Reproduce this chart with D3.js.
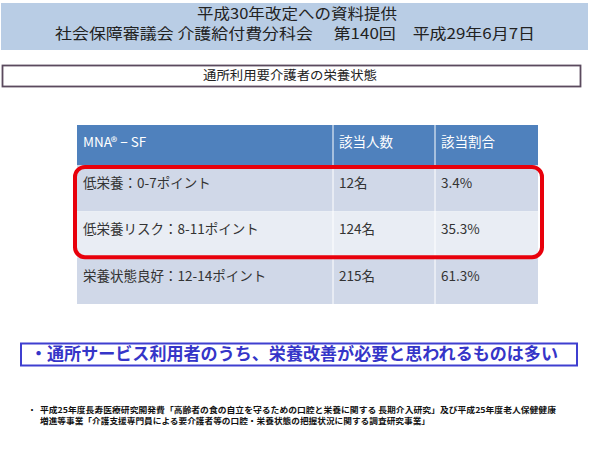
<!DOCTYPE html>
<html><head><meta charset="utf-8">
<script src="https://cdn.jsdelivr.net/npm/d3@7"></script>
<style>body{margin:0;background:#fff}svg{display:block}</style>
</head><body>
<script>
const headerLines = ["平成30年改定への資料提供", "社会保障審議会 介護給付費分科会　 第140回　平成29年6月7日"];
const pageTitle = "通所利用要介護者の栄養状態";
const columns = ["MNA® − SF", "該当人数", "該当割合"];
const categories = ["低栄養：0-7ポイント", "低栄養リスク：8-11ポイント", "栄養状態良好：12-14ポイント"];
const counts = [12, 124, 215];
const shares = [3.4, 35.3, 61.3];
const highlighted = ["低栄養：0-7ポイント", "低栄養リスク：8-11ポイント"];
const conclusion = "・通所サービス利用者のうち、栄養改善が必要と思われるものは多い";
const footnotes = ["平成25年度長寿医療研究開発費「高齢者の食の自立を守るための口腔と栄養に関する 長期介入研究」及び平成25年度老人保健健康",
                   "増進等事業「介護支援専門員による要介護者等の口腔・栄養状態の把握状況に関する調査研究事業」"];

const W = 600, H = 450;
const FONT = "'Noto Sans CJK JP','Noto Sans',sans-serif";
const svg = d3.select("body").append("svg").attr("width", W).attr("height", H)
  .style("font-family", FONT);

// header band
svg.append("rect").attr("x", 1).attr("y", 3).attr("width", 587).attr("height", 47).attr("fill", "#b9cde5");
svg.append("text").attr("x", 297).attr("y", 19).attr("text-anchor", "middle")
  .attr("font-size", 15).attr("fill", "#222").attr("textLength", 200).attr("lengthAdjust", "spacingAndGlyphs").text(headerLines[0]);
svg.append("text").attr("x", 295).attr("y", 39).attr("text-anchor", "middle")
  .attr("font-size", 15).attr("fill", "#222").attr("textLength", 480).attr("lengthAdjust", "spacingAndGlyphs").text(headerLines[1]);

// title box
svg.append("rect").attr("x", 2.5).attr("y", 65.5).attr("width", 578).attr("height", 21)
  .attr("fill", "#fff").attr("stroke", "#5b4a5e").attr("stroke-width", 1.8);
svg.append("text").attr("x", 290).attr("y", 80).attr("text-anchor", "middle")
  .attr("font-size", 12.5).attr("fill", "#222").attr("textLength", 174).attr("lengthAdjust", "spacingAndGlyphs").text(pageTitle);

// table
const rowsData = categories.map((c, i) => [c, counts[i] + "名", shares[i].toFixed(1) + "%"]);
const colEdges = [77, 333, 435, 538];
const xCol = d3.scaleOrdinal().domain(d3.range(columns.length)).range(colEdges.slice(0, 3));
const colW = i => colEdges[i + 1] - colEdges[i];
const headTop = 125, headBot = 165, tableBot = 304;
const y = d3.scaleBand().domain(d3.range(categories.length)).range([headBot, tableBot]);

svg.append("rect").attr("x", colEdges[0]).attr("y", headTop).attr("width", colEdges[3] - colEdges[0])
  .attr("height", headBot - headTop).attr("fill", "#4f81bd");
svg.selectAll("text.hd").data(columns).join("text").attr("class", "hd")
  .attr("x", (d, i) => xCol(i) + 6).attr("y", headTop + 22)
  .attr("font-size", 13.5).attr("fill", "#fff").text(d => d);

const rowG = svg.selectAll("g.row").data(rowsData).join("g").attr("class", "row");
rowG.append("rect").attr("x", colEdges[0]).attr("y", (d, i) => y(i))
  .attr("width", colEdges[3] - colEdges[0]).attr("height", y.bandwidth())
  .attr("fill", (d, i) => i % 2 === 0 ? "#d0d8e8" : "#e9edf4");
rowG.each(function (row, ri) {
  d3.select(this).selectAll("text").data(row).join("text")
    .attr("x", (d, ci) => xCol(ci) + 6).attr("y", y(ri) + 23)
    .attr("font-size", 13.5).attr("fill", "#333").text(d => d);
});
// column dividers
svg.selectAll("line.div").data([1, 2]).join("line").attr("class", "div")
  .attr("x1", i => colEdges[i]).attr("x2", i => colEdges[i])
  .attr("y1", headTop).attr("y2", tableBot).attr("stroke", "#fff").attr("stroke-width", 1);

// highlight box
const hiIdx = highlighted.map(h => categories.indexOf(h));
const hTop = y(d3.min(hiIdx)) + 2, hBot = y(d3.max(hiIdx)) + y.bandwidth() - 0.5;
svg.append("rect").attr("x", 75).attr("y", hTop).attr("width", 467).attr("height", hBot - hTop)
  .attr("rx", 10).attr("fill", "none").attr("stroke", "#e8000b").attr("stroke-width", 4);

// conclusion box
svg.append("rect").attr("x", 21).attr("y", 343.5).attr("width", 556).attr("height", 22)
  .attr("fill", "#fff").attr("stroke", "#3f3fd0").attr("stroke-width", 2);
svg.append("text").attr("x", 30).attr("y", 360).attr("font-size", 16.5).attr("font-weight", "bold")
  .attr("fill", "#3535c8").attr("textLength", 528).attr("lengthAdjust", "spacingAndGlyphs").text(conclusion);

// footnotes
svg.append("text").attr("x", 28).attr("y", 413).attr("font-size", 8).attr("font-weight", "bold").attr("fill", "#111").text("・");
svg.selectAll("text.fn").data(footnotes).join("text").attr("class", "fn")
  .attr("x", 40).attr("y", (d, i) => 413 + i * 11)
  .attr("font-size", 8).attr("font-weight", "bold").attr("fill", "#111")
  .attr("textLength", (d, i) => i === 0 ? 516 : 390).attr("lengthAdjust", "spacingAndGlyphs").text(d => d);
</script>
</body></html>
